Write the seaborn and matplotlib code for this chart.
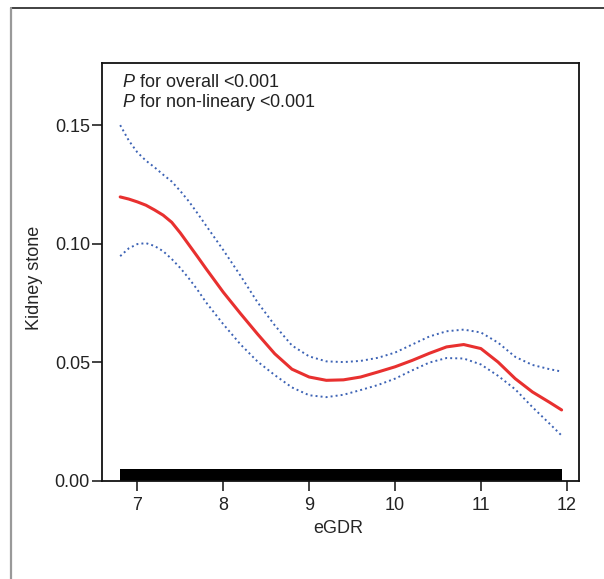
import numpy as np
import pandas as pd
import matplotlib
matplotlib.use("Agg")
import matplotlib.pyplot as plt
import seaborn as sns
from matplotlib.lines import Line2D
from matplotlib.ticker import FormatStrFormatter

# restricted cubic spline
egdr = [6.8, 6.9, 7.0, 7.1, 7.2, 7.3, 7.4, 7.5, 7.6, 7.7, 7.8, 8.0, 8.2, 8.4, 8.6, 8.8,
        9.0, 9.2, 9.4, 9.6, 9.8, 10.0, 10.2, 10.4, 10.6, 10.8, 11.0, 11.2, 11.4, 11.6,
        11.8, 11.94]
fit = [0.1197, 0.1188, 0.1176, 0.1162, 0.1142, 0.1120, 0.1090, 0.1045, 0.0995, 0.0945,
       0.0894, 0.0795, 0.0705, 0.0618, 0.0535, 0.0470, 0.0437, 0.0423, 0.0425, 0.0437,
       0.0458, 0.0480, 0.0507, 0.0537, 0.0564, 0.0574, 0.0557, 0.0500, 0.0430, 0.0374,
       0.0330, 0.0298]
upper = [0.1500, 0.1435, 0.1385, 0.1350, 0.1322, 0.1291, 0.1262, 0.1222, 0.1178, 0.1128,
         0.1076, 0.0973, 0.0865, 0.0752, 0.0655, 0.0570, 0.0524, 0.0503, 0.0500, 0.0505,
         0.0518, 0.0540, 0.0574, 0.0608, 0.0630, 0.0637, 0.0625, 0.0582, 0.0522, 0.0488,
         0.0470, 0.0460]
lower = [0.0947, 0.0980, 0.0998, 0.1002, 0.0990, 0.0968, 0.0935, 0.0897, 0.0853, 0.0805,
         0.0752, 0.0660, 0.0575, 0.0502, 0.0445, 0.0393, 0.0360, 0.0352, 0.0362, 0.0382,
         0.0403, 0.0430, 0.0465, 0.0498, 0.0517, 0.0515, 0.0490, 0.0442, 0.0385, 0.0310,
         0.0240, 0.0190]
rug_min, rug_max = 6.8, 11.94

x_ticks = [7, 8, 9, 10, 11, 12]
y_ticks = [0.00, 0.05, 0.10, 0.15]

sns.set_style("ticks")
plt.rcParams['font.family'] = ['Liberation Sans', 'DejaVu Sans']
plt.rcParams['mathtext.fontset'] = 'custom'
plt.rcParams['mathtext.it'] = 'Liberation Sans:italic'
plt.rcParams['mathtext.rm'] = 'Liberation Sans'

df = pd.DataFrame({"eGDR": egdr, "fit": fit, "upper": upper, "lower": lower})

fig = plt.figure(figsize=(6.04, 5.79), dpi=100)
ax = fig.add_axes([0.1697, 0.1684, 0.7894, 0.7223])

blue = "#3d63b5"
sns.lineplot(data=df, x="eGDR", y="upper", ax=ax, color=blue, lw=1.4, linestyle=(0, (1, 1.6)))
sns.lineplot(data=df, x="eGDR", y="lower", ax=ax, color=blue, lw=1.4, linestyle=(0, (1, 1.6)))
sns.lineplot(data=df, x="eGDR", y="fit", ax=ax, color="#e8302f", lw=2.2)

ax.set_xlim(6.594, 12.146)
ax.set_ylim(-0.0004, 0.1761)
# rug of observations (dense, shows as a solid bar)
ax.axvspan(rug_min, rug_max, ymin=0, ymax=0.031, color="black", lw=0)

ax.set_xticks(x_ticks)
ax.set_yticks(y_ticks)
ax.yaxis.set_major_formatter(FormatStrFormatter('%.2f'))
ax.tick_params(direction="out", length=7, width=1.2, labelsize=13, pad=2, colors="#222")
ax.tick_params(axis="x", pad=4)
for s in ax.spines.values():
    s.set_linewidth(1.3)
    s.set_color("#111")
    s.set_visible(True)

ax.set_xlabel("eGDR", fontsize=13)
ax.set_ylabel("Kidney stone", fontsize=13)
ax.xaxis.set_label_coords(0.494, -0.092)
ax.yaxis.set_label_coords(-0.125, 0.487)

ax.text(0.04, 0.955, r"$P$ for overall <0.001", transform=ax.transAxes, fontsize=13,
        va="center", ha="left", color="#222")
ax.text(0.04, 0.907, r"$P$ for non-lineary <0.001", transform=ax.transAxes, fontsize=13,
        va="center", ha="left", color="#222")

# outer panel frame
fig.add_artist(Line2D([11 / 604, 1], [1 - 8 / 579, 1 - 8 / 579], color="#333", lw=1.3,
                      transform=fig.transFigure))
fig.add_artist(Line2D([11 / 604, 11 / 604], [0, 1 - 8 / 579], color="#999", lw=1.6,
                      transform=fig.transFigure))

fig.savefig("out.png", dpi=100)
